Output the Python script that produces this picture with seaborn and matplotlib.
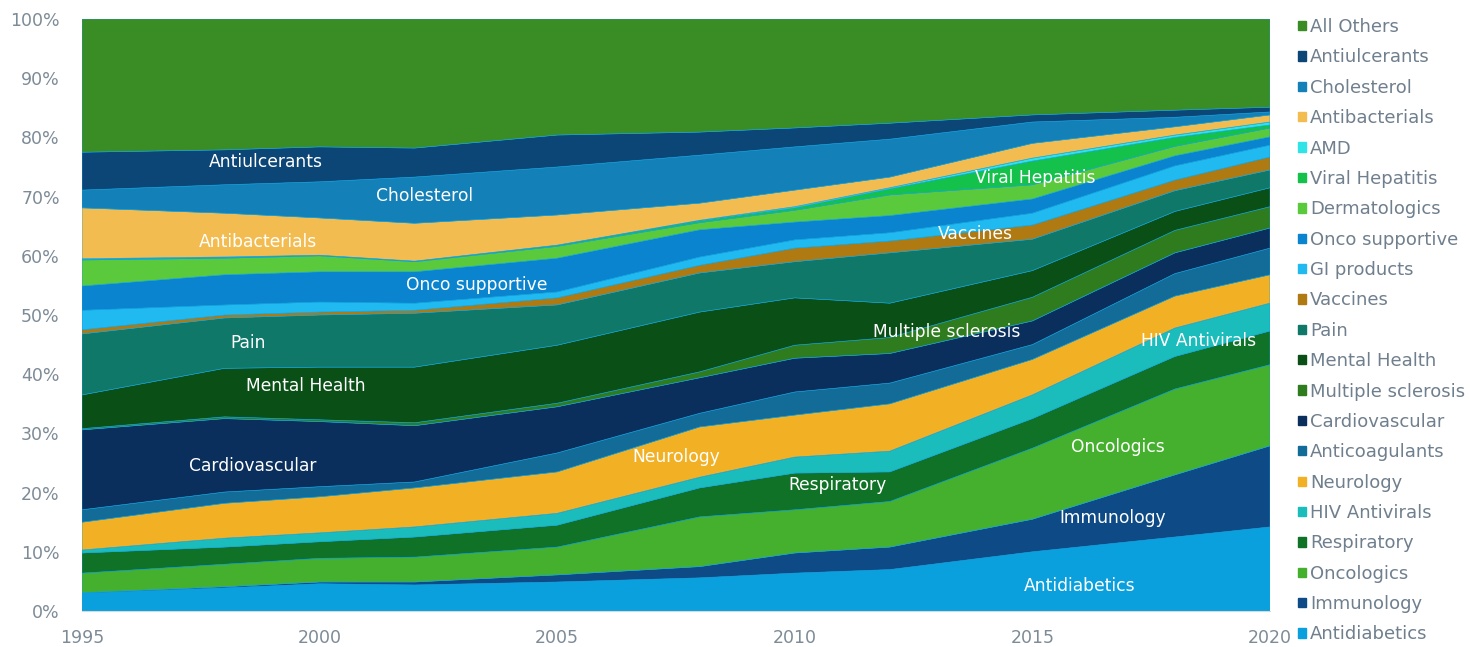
import numpy as np
import pandas as pd
import matplotlib
matplotlib.use("Agg")
import matplotlib.pyplot as plt
from matplotlib.patches import Patch
from matplotlib.ticker import MultipleLocator, PercentFormatter
import seaborn as sns

years = [1995, 1998, 2000, 2002, 2005, 2008, 2010, 2012, 2015, 2018, 2020]

# Anteile in % je Therapiegebiet, von unten nach oben gestapelt
antidiabetics = [3.0, 3.9, 4.6, 4.4, 4.9, 5.6, 6.4, 7.0, 10.0, 12.5, 14.2]
immunology = [0.1, 0.2, 0.3, 0.5, 1.2, 1.9, 3.4, 3.8, 5.5, 10.5, 13.7]
oncologics = [3.3, 3.8, 4.0, 4.2, 4.7, 8.4, 7.3, 7.7, 12.0, 14.5, 13.7]
respiratory = [3.4, 2.9, 2.8, 3.4, 3.7, 4.9, 6.2, 5.0, 5.0, 5.5, 5.7]
hiv_antivirals = [0.5, 1.5, 1.5, 1.7, 2.0, 1.8, 2.7, 3.5, 4.0, 4.8, 4.7]
neurology = [4.7, 5.9, 6.1, 6.6, 7.0, 8.5, 7.1, 8.0, 6.0, 5.4, 4.8]
anticoagulants = [2.1, 1.9, 1.7, 1.0, 3.2, 2.3, 3.9, 3.5, 2.5, 3.8, 4.5]
cardiovascular = [13.5, 12.4, 11.0, 9.5, 7.8, 6.0, 5.7, 5.0, 4.0, 3.5, 3.4]
multiple_sclerosis = [0.2, 0.3, 0.3, 0.5, 0.6, 1.0, 2.2, 2.7, 4.0, 3.8, 3.6]
mental_health = [5.7, 8.2, 8.9, 9.4, 9.8, 10.1, 8.0, 5.8, 4.5, 3.2, 3.2]
pain = [10.3, 8.5, 8.8, 9.1, 6.8, 6.6, 6.1, 8.5, 5.3, 3.5, 3.0]
vaccines = [0.7, 0.5, 0.5, 0.5, 1.2, 1.3, 2.3, 2.0, 2.4, 1.8, 2.2]
gi_products = [3.3, 1.7, 1.7, 1.2, 1.0, 1.4, 1.4, 1.4, 2.0, 2.4, 2.0]
onco_supportive = [4.1, 5.1, 5.1, 5.3, 5.7, 4.6, 3.0, 2.9, 2.4, 1.7, 1.4]
dermatologics = [4.4, 2.8, 2.7, 1.7, 2.0, 1.2, 2.0, 3.5, 2.4, 1.6, 1.5]
viral_hepatitis = [0.1, 0.1, 0.1, 0.1, 0.2, 0.3, 0.4, 1.0, 4.0, 1.5, 0.5]
amd = [0.1, 0.1, 0.0, 0.0, 0.0, 0.1, 0.2, 0.2, 0.5, 0.4, 0.5]
antibacterials = [8.6, 7.4, 6.3, 6.4, 5.1, 2.9, 2.8, 1.8, 2.5, 1.4, 1.2]
cholesterol = [3.0, 4.8, 6.1, 7.8, 8.1, 8.1, 7.3, 6.4, 3.6, 1.6, 0.5]
antiulcerants = [6.4, 5.9, 5.9, 4.9, 5.4, 3.9, 3.2, 2.7, 1.2, 1.2, 0.8]
all_others = [22.5, 22.1, 21.6, 21.8, 19.6, 19.1, 18.4, 17.6, 16.2, 15.4, 14.9]

labels = ['Antidiabetics', 'Immunology', 'Oncologics', 'Respiratory', 'HIV Antivirals',
          'Neurology', 'Anticoagulants', 'Cardiovascular', 'Multiple sclerosis',
          'Mental Health', 'Pain', 'Vaccines', 'GI products', 'Onco supportive',
          'Dermatologics', 'Viral Hepatitis', 'AMD', 'Antibacterials', 'Cholesterol',
          'Antiulcerants', 'All Others']

colors = ['#0aa0de', '#0d4a86', '#45b02d', '#0f7226', '#1bbcbc',
          '#f2b024', '#136b98', '#0b2f5c', '#2f7c1f',
          '#0a5016', '#0f7868', '#b07a12', '#20b9f0', '#0b84cf',
          '#5ac93c', '#14c14a', '#30e3e6', '#f3bc50', '#1480b8',
          '#0c4676', '#3a8d24']

df = pd.DataFrame({'year': years,
                   'Antidiabetics': antidiabetics, 'Immunology': immunology,
                   'Oncologics': oncologics, 'Respiratory': respiratory,
                   'HIV Antivirals': hiv_antivirals, 'Neurology': neurology,
                   'Anticoagulants': anticoagulants, 'Cardiovascular': cardiovascular,
                   'Multiple sclerosis': multiple_sclerosis, 'Mental Health': mental_health,
                   'Pain': pain, 'Vaccines': vaccines, 'GI products': gi_products,
                   'Onco supportive': onco_supportive, 'Dermatologics': dermatologics,
                   'Viral Hepatitis': viral_hepatitis, 'AMD': amd,
                   'Antibacterials': antibacterials, 'Cholesterol': cholesterol,
                   'Antiulcerants': antiulcerants, 'All Others': all_others})

# auf 100% normieren
shares = df[labels].div(df[labels].sum(axis=1), axis=0) * 100

sns.set_style("white")
plt.rcParams['font.family'] = ['DejaVu Sans']

fig = plt.figure(figsize=(14.7, 6.47), dpi=100)
ax = fig.add_axes([82 / 1470, 1 - 611 / 647, (1270 - 82) / 1470, (611 - 19) / 647])

ax.stackplot(df['year'], *[shares[c] for c in labels], colors=colors,
             linewidth=0.4, edgecolors=colors)

ax.set_xlim(1995, 2020)
ax.set_ylim(0, 100)
ax.yaxis.set_major_locator(MultipleLocator(10))
ax.yaxis.set_major_formatter(PercentFormatter(decimals=0))
ax.xaxis.set_major_locator(MultipleLocator(5))
ax.xaxis.set_minor_locator(MultipleLocator(1))
grey = '#7d8b97'
ax.tick_params(axis='y', length=0, labelsize=12.5, labelcolor=grey, pad=16)
ax.tick_params(axis='x', which='major', length=5, color='#d8d8d8', labelsize=12.5,
               labelcolor=grey, pad=8)
ax.tick_params(axis='x', which='minor', length=5, color='#d8d8d8')
for s in ['top', 'right', 'left']:
    ax.spines[s].set_visible(False)
ax.spines['bottom'].set_color('#d8d8d8')

# Beschriftungen im Diagramm
inline = [('Antiulcerants', 1998.87, 75.8), ('Cholesterol', 2002.2, 70.1),
          ('Antibacterials', 1998.7, 62.3), ('Onco supportive', 2003.3, 55.1),
          ('Pain', 1998.5, 45.3), ('Mental Health', 1999.7, 38.0),
          ('Cardiovascular', 1998.6, 24.5), ('Neurology', 2007.5, 26.0),
          ('Respiratory', 2010.9, 21.3), ('Viral Hepatitis', 2015.05, 73.1),
          ('Vaccines', 2013.8, 63.7), ('Multiple sclerosis', 2013.2, 47.1),
          ('HIV Antivirals', 2018.5, 45.6), ('Oncologics', 2016.8, 27.7),
          ('Immunology', 2016.7, 15.7), ('Antidiabetics', 2016.0, 4.2)]
for txt, x, y in inline:
    ax.text(x, y, txt, color='white', fontsize=12.3, ha='center', va='center')

# Legende rechts, oben "All Others"
handles = [Patch(facecolor=c, edgecolor=c) for c in colors][::-1]
leg = ax.legend(handles, labels[::-1], loc='upper left', bbox_to_anchor=(1.0235, 1.0015),
                frameon=False, fontsize=13, handlelength=0.42, handleheight=0.42,
                handletextpad=0.25, labelspacing=0.685, borderaxespad=0, borderpad=0)
for t in leg.get_texts():
    t.set_color('#6f7f8d')

plt.savefig('out.png', dpi=100)
plt.close()
